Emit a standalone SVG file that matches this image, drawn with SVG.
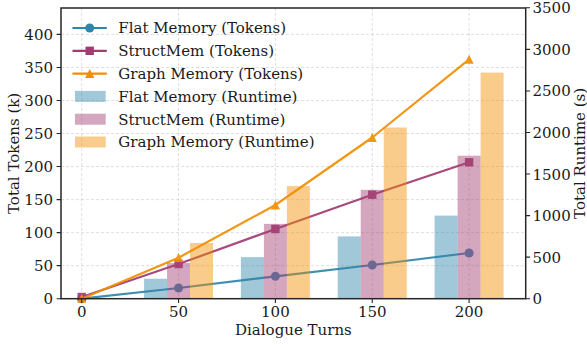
<svg xmlns="http://www.w3.org/2000/svg" width="587" height="345" viewBox="0 0 587 345">
<style>
text{font-family:"DejaVu Serif","Liberation Serif",serif;font-size:15px;fill:#1a1a1a}
.grid{stroke:#b0b0b0;stroke-width:0.8;stroke-dasharray:3,2;opacity:0.5;fill:none}
.spine{stroke:#262626;stroke-width:1.5;fill:none}
.tick{stroke:#262626;stroke-width:1.1}
.ln{fill:none;stroke-width:2.2;stroke-linejoin:round;stroke-linecap:round}
.flat{stroke:#2E86AB;fill:#2E86AB}
.struct{stroke:#A23B72;fill:#A23B72}
.graph{stroke:#F18F01;fill:#F18F01}
.bar{fill-opacity:0.45;stroke:none}
.bflat{fill:#2E86AB}
.bstruct{fill:#A23B72}
.bgraph{fill:#F18F01}
.yl{text-anchor:end}
.yr{text-anchor:start}
.xt{text-anchor:middle}
</style>
<defs>
<circle id="mc" r="4.5" stroke="none"/>
<rect id="ms" x="-4.2" y="-4.2" width="8.4" height="8.4" stroke="none"/>
<path id="mt" d="M0,-4.6 L4.6,4.4 L-4.6,4.4 Z" stroke="none"/>
</defs>
<rect width="587" height="345" fill="#ffffff"/>
<g id="grid">
<path class="grid" d="M81.7,8V298.7M178.55,8V298.7M275.4,8V298.7M372.25,8V298.7M469.1,8V298.7"/>
<path class="grid" d="M61,265.67H525.7M61,232.63H525.7M61,199.6H525.7M61,166.56H525.7M61,133.53H525.7M61,100.49H525.7M61,67.46H525.7M61,34.42H525.7"/>
</g>
<g id="connectors">
<g id="flat-line" opacity="0.92">
<polyline class="ln flat" style="fill:none" points="81.7,298.7 178.55,288 275.4,276.3 372.25,265 469.1,253"/>
<g class="flat"><use href="#mc" x="81.7" y="298.7"/><use href="#mc" x="178.55" y="288"/><use href="#mc" x="275.4" y="276.3"/><use href="#mc" x="372.25" y="265"/><use href="#mc" x="469.1" y="253"/></g>
</g>
<g id="struct-line" opacity="0.92">
<polyline class="ln struct" style="fill:none" points="81.7,297 178.55,264 275.4,229 372.25,194.7 469.1,162.3"/>
<g class="struct"><use href="#ms" x="81.7" y="297"/><use href="#ms" x="178.55" y="264"/><use href="#ms" x="275.4" y="229"/><use href="#ms" x="372.25" y="194.7"/><use href="#ms" x="469.1" y="162.3"/></g>
</g>
<g id="graph-line" opacity="0.92">
<polyline class="ln graph" style="fill:none" points="81.7,298.7 178.55,257.7 275.4,205 372.25,137.5 469.1,59.3"/>
<g class="graph"><use href="#mt" x="81.7" y="298.3"/><use href="#mt" x="178.55" y="257.7"/><use href="#mt" x="275.4" y="205"/><use href="#mt" x="372.25" y="137.5"/><use href="#mt" x="469.1" y="59.3"/></g>
</g>
</g>
<g id="bars">
<rect class="bar bflat" x="144.05" y="278.75" width="23" height="19.95"/>
<rect class="bar bstruct" x="167.05" y="263" width="23" height="35.7"/>
<rect class="bar bgraph" x="190.05" y="243" width="23" height="55.7"/>
<rect class="bar bflat" x="240.9" y="257.1" width="23" height="41.6"/>
<rect class="bar bstruct" x="263.9" y="223.9" width="23" height="74.8"/>
<rect class="bar bgraph" x="286.9" y="186.1" width="23" height="112.6"/>
<rect class="bar bflat" x="337.75" y="236.4" width="23" height="62.3"/>
<rect class="bar bstruct" x="360.75" y="189.8" width="23" height="108.9"/>
<rect class="bar bgraph" x="383.75" y="127.5" width="23" height="171.2"/>
<rect class="bar bflat" x="434.6" y="215.6" width="23" height="83.1"/>
<rect class="bar bstruct" x="457.6" y="155.7" width="23" height="143"/>
<rect class="bar bgraph" x="480.6" y="72.6" width="23" height="226.1"/>
</g>
<g id="axes">
<rect class="spine" x="61" y="8" width="464.7" height="290.7"/>
<path class="tick" d="M61,298.7H56.6M61,265.67H56.6M61,232.63H56.6M61,199.6H56.6M61,166.56H56.6M61,133.53H56.6M61,100.49H56.6M61,67.46H56.6M61,34.42H56.6"/>
<path class="tick" d="M525.7,298.7H530.1M525.7,257.15H530.1M525.7,215.59H530.1M525.7,174.04H530.1M525.7,132.48H530.1M525.7,90.93H530.1M525.7,49.37H530.1M525.7,7.82H530.1"/>
<path class="tick" d="M81.7,298.7V303.1M178.55,298.7V303.1M275.4,298.7V303.1M372.25,298.7V303.1M469.1,298.7V303.1"/>
<g class="yl">
<text x="53" y="304.2">0</text>
<text x="53" y="271.2">50</text>
<text x="53" y="238.1">100</text>
<text x="53" y="205.1">150</text>
<text x="53" y="172.1">200</text>
<text x="53" y="139">250</text>
<text x="53" y="106">300</text>
<text x="53" y="73">350</text>
<text x="53" y="39.9">400</text>
</g>
<g class="yr">
<text x="532.5" y="304.2">0</text>
<text x="532.5" y="262.7">500</text>
<text x="532.5" y="221.1">1000</text>
<text x="532.5" y="179.5">1500</text>
<text x="532.5" y="138">2000</text>
<text x="532.5" y="96.4">2500</text>
<text x="532.5" y="54.9">3000</text>
<text x="532.5" y="13.3">3500</text>
</g>
<g class="xt">
<text x="81.7" y="317">0</text>
<text x="178.55" y="317">50</text>
<text x="275.4" y="317">100</text>
<text x="372.25" y="317">150</text>
<text x="469.1" y="317">200</text>
</g>
<text class="xt" x="293.4" y="335">Dialogue Turns</text>
<text class="xt" transform="translate(19,153.4) rotate(-90)">Total Tokens (k)</text>
<text class="xt" transform="translate(584.5,153.4) rotate(-90)">Total Runtime (s)</text>
</g>
<g id="legend">
<g id="leg-flat-tokens"><path class="ln flat" d="M73.3,28H106"/><use class="flat" href="#mc" x="89.7" y="28"/><text x="118.3" y="33.4">Flat Memory (Tokens)</text></g>
<g id="leg-struct-tokens"><path class="ln struct" d="M73.3,50.8H106"/><use class="struct" href="#ms" x="89.7" y="50.8"/><text x="118.3" y="56.2">StructMem (Tokens)</text></g>
<g id="leg-graph-tokens"><path class="ln graph" d="M73.3,73.6H106"/><use class="graph" href="#mt" x="89.7" y="73.6"/><text x="118.3" y="79">Graph Memory (Tokens)</text></g>
<g id="leg-flat-runtime"><rect class="bar bflat" x="75" y="90.9" width="30.7" height="11"/><text x="118.3" y="101.8">Flat Memory (Runtime)</text></g>
<g id="leg-struct-runtime"><rect class="bar bstruct" x="75" y="113.7" width="30.7" height="11"/><text x="118.3" y="124.6">StructMem (Runtime)</text></g>
<g id="leg-graph-runtime"><rect class="bar bgraph" x="75" y="136.5" width="30.7" height="11"/><text x="118.3" y="147.4">Graph Memory (Runtime)</text></g>
</g>
</svg>
